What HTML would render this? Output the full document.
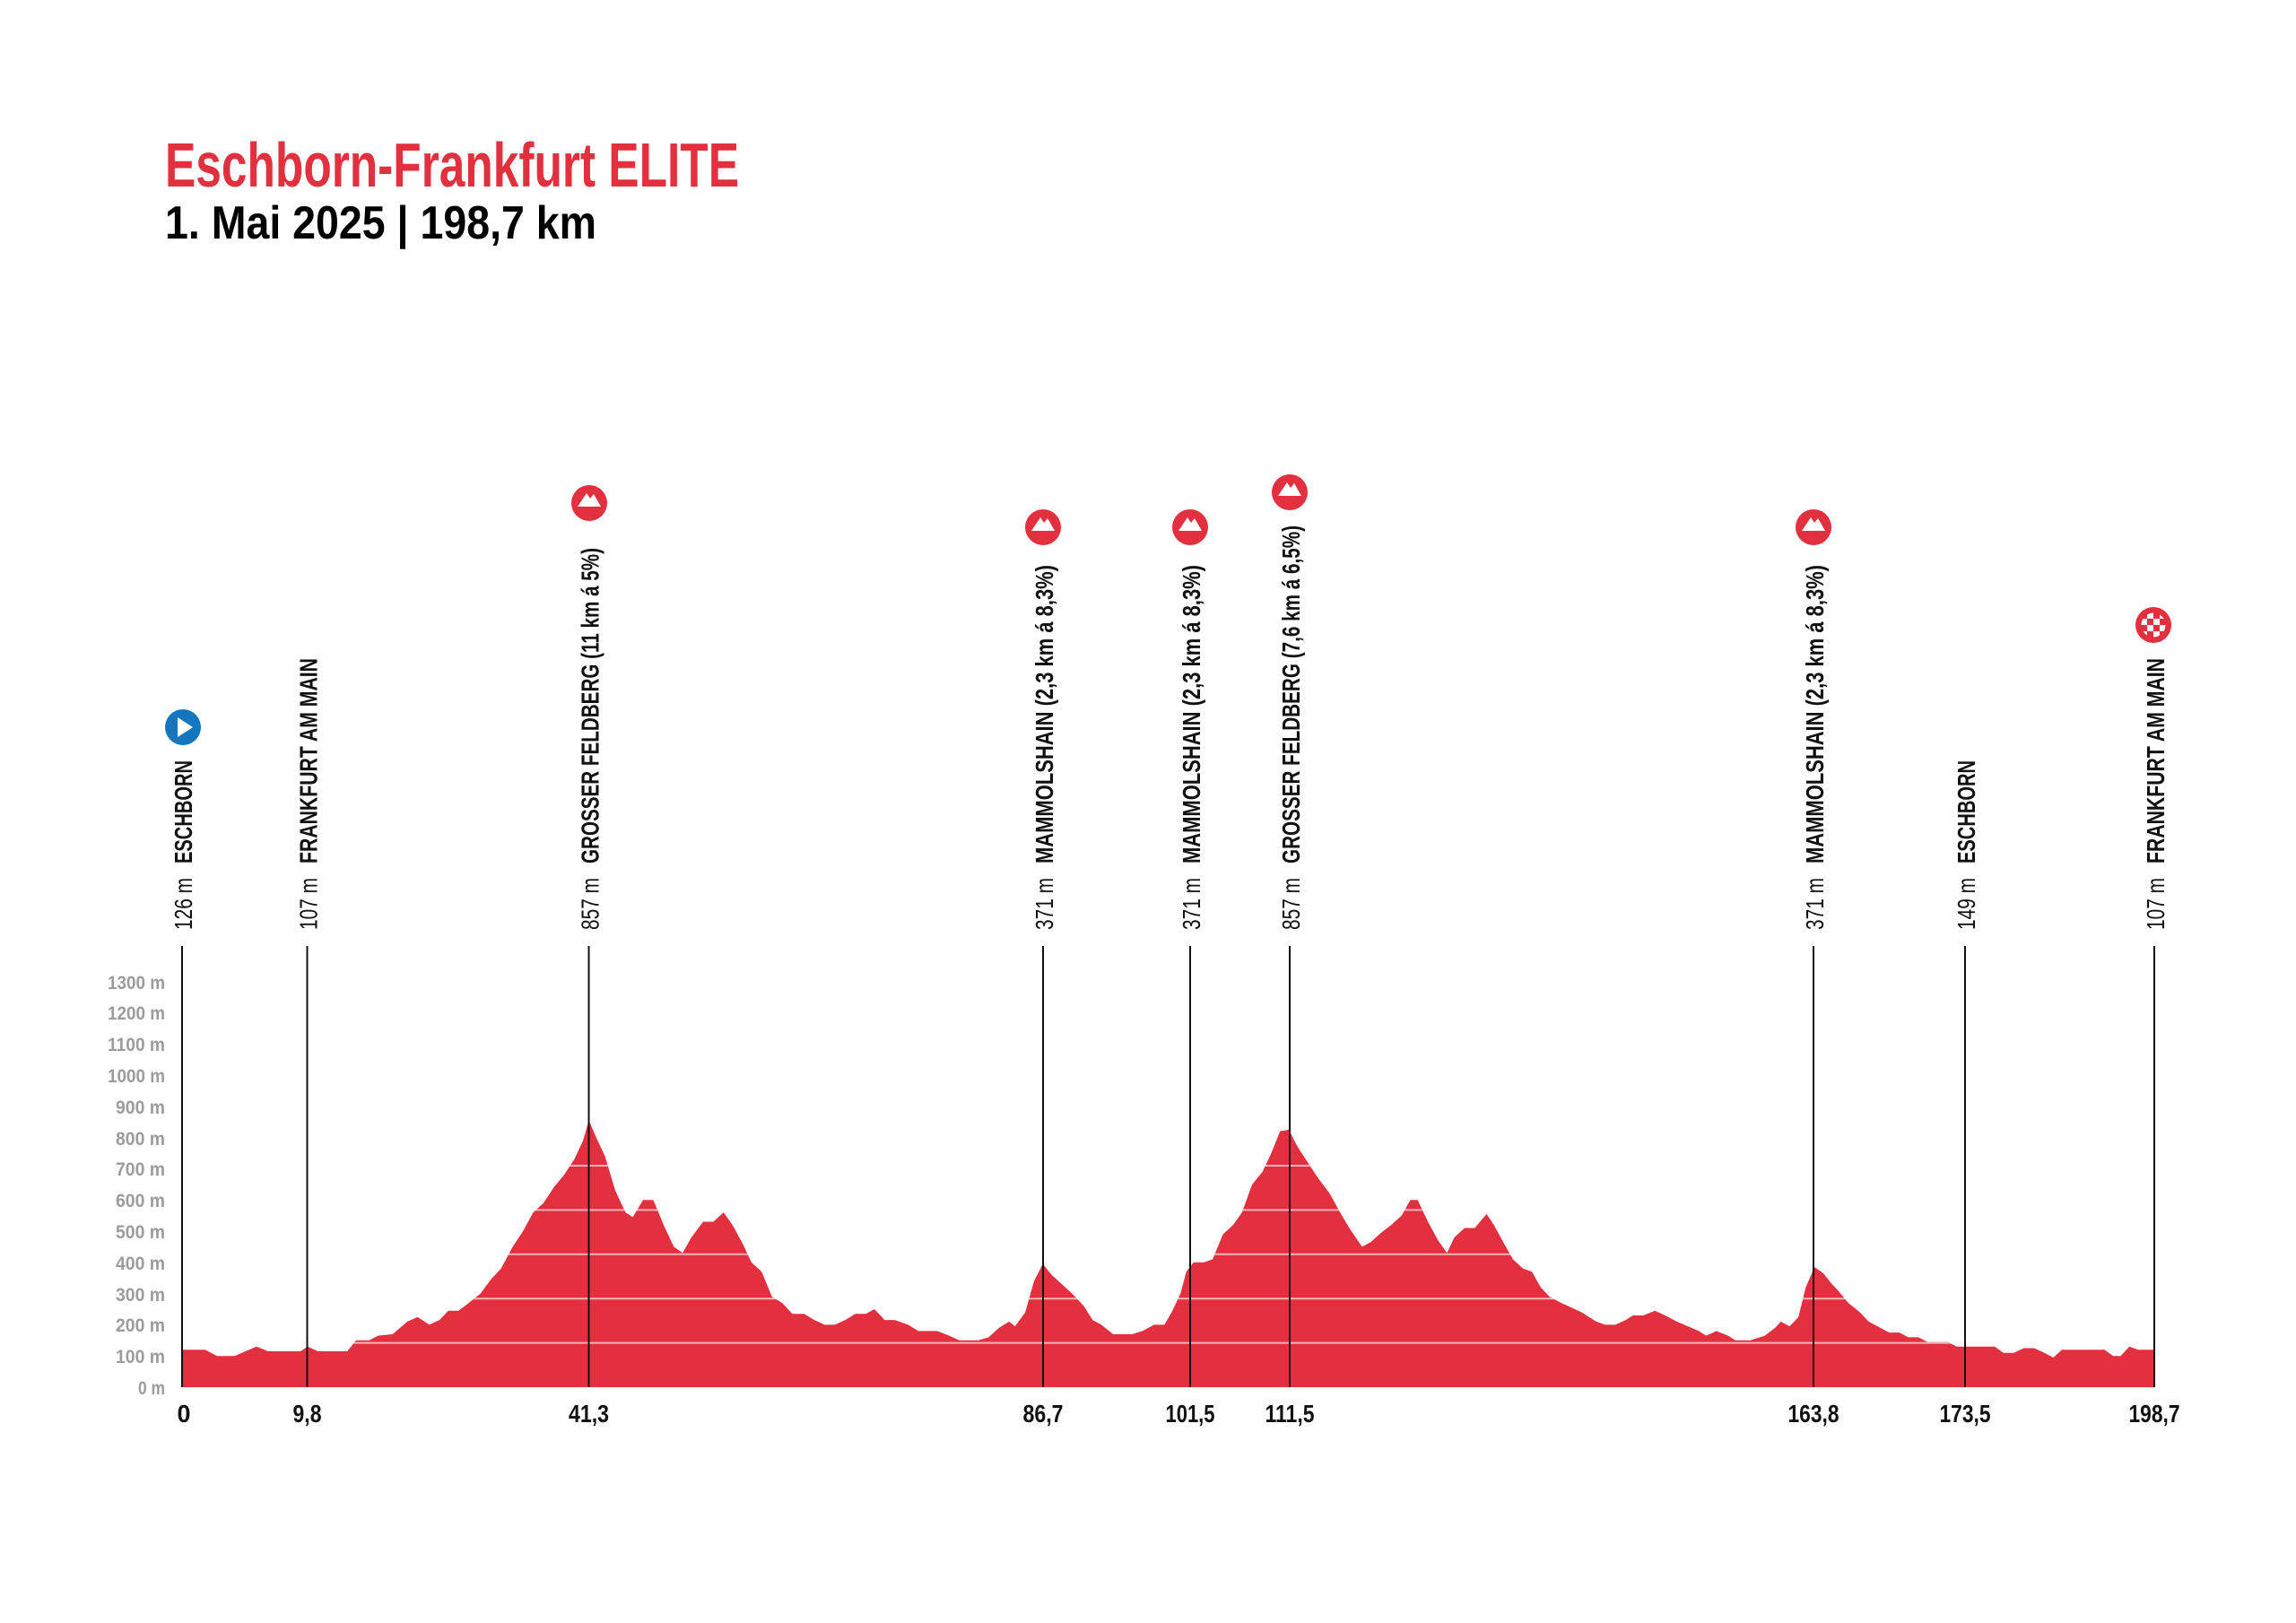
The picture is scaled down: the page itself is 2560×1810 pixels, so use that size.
<!DOCTYPE html>
<html><head><meta charset="utf-8"><style>
html,body{margin:0;padding:0;background:#fff;}
svg{display:block;}
</style></head><body>
<svg width="2560" height="1810" viewBox="0 0 2560 1810" xmlns="http://www.w3.org/2000/svg" font-family="'Liberation Sans', sans-serif">
<defs>
<clipPath id="pc"><polygon id="prof" transform="matrix(1.6327 0 0 -0.348 0.25 1547)" points="124,0 124,120 140,120 148,100 160,100 175,130 183,115 205,115 210,130 217,115 237,115 243,150 252,150 258,165 268,170 278,210 285,225 293,200 300,215 306,245 313,245 320,270 328,300 335,345 342,380 350,450 357,500 364,560 371,590 378,640 385,680 392,730 398,790 402,855 407,800 413,740 420,630 427,560 432,545 439,600 446,600 453,520 460,450 466,430 472,480 480,530 487,530 494,560 500,520 507,460 513,400 520,370 527,290 534,270 541,235 549,235 556,215 563,200 570,200 577,215 584,235 591,235 597,250 604,215 611,215 620,200 627,180 640,180 648,165 655,150 668,150 675,160 682,190 689,210 693,195 700,240 706,340 712,395 718,360 725,330 732,300 740,260 746,215 752,200 760,170 773,170 780,180 788,200 795,200 800,240 806,300 810,370 815,400 822,400 828,410 835,490 842,520 848,560 855,650 862,690 868,750 874,820 880,825 886,770 893,720 900,670 908,620 915,560 922,505 930,450 936,465 943,495 950,520 957,550 963,600 968,600 975,530 982,470 988,430 993,480 1000,510 1007,510 1015,555 1020,520 1027,460 1033,410 1040,380 1046,370 1052,320 1058,290 1066,270 1080,240 1090,210 1096,200 1103,200 1110,215 1115,230 1122,230 1130,245 1137,230 1145,210 1160,180 1165,165 1172,180 1180,165 1185,150 1195,150 1205,165 1212,190 1216,210 1222,195 1228,225 1233,320 1239,385 1245,365 1250,335 1255,310 1262,270 1270,240 1276,210 1282,195 1290,175 1297,175 1303,160 1310,160 1316,145 1330,145 1336,130 1362,130 1368,110 1375,110 1382,125 1389,125 1396,110 1402,95 1408,120 1430,120 1437,120 1443,100 1448,100 1454,130 1460,120 1471,120 1471,0"/></clipPath>
</defs>

<text x="184" y="208" font-size="70" font-weight="bold" fill="#e3303f" textLength="640" lengthAdjust="spacingAndGlyphs">Eschborn-Frankfurt ELITE</text>
<text x="184" y="266" font-size="52" font-weight="bold" fill="#000" textLength="481" lengthAdjust="spacingAndGlyphs">1. Mai 2025 | 198,7 km</text>

<use href="#prof" fill="#e3303f"/>
<g clip-path="url(#pc)" stroke="#f4b5ba" stroke-width="2">
<line x1="150" y1="1497.6" x2="2450" y2="1497.6"/>
<line x1="150" y1="1448.2" x2="2450" y2="1448.2"/>
<line x1="150" y1="1398.8" x2="2450" y2="1398.8"/>
<line x1="150" y1="1349.4" x2="2450" y2="1349.4"/>
<line x1="150" y1="1300" x2="2450" y2="1300"/>
</g>

<g font-size="21" font-weight="bold" fill="#9c9c9c" text-anchor="end">
<text x="184" y="1555" textLength="30" lengthAdjust="spacingAndGlyphs">0 m</text>
<text x="184" y="1520" textLength="55" lengthAdjust="spacingAndGlyphs">100 m</text>
<text x="184" y="1485" textLength="55" lengthAdjust="spacingAndGlyphs">200 m</text>
<text x="184" y="1451" textLength="55" lengthAdjust="spacingAndGlyphs">300 m</text>
<text x="184" y="1416" textLength="55" lengthAdjust="spacingAndGlyphs">400 m</text>
<text x="184" y="1381" textLength="55" lengthAdjust="spacingAndGlyphs">500 m</text>
<text x="184" y="1346" textLength="55" lengthAdjust="spacingAndGlyphs">600 m</text>
<text x="184" y="1311" textLength="55" lengthAdjust="spacingAndGlyphs">700 m</text>
<text x="184" y="1277" textLength="55" lengthAdjust="spacingAndGlyphs">800 m</text>
<text x="184" y="1242" textLength="55" lengthAdjust="spacingAndGlyphs">900 m</text>
<text x="184" y="1207" textLength="64" lengthAdjust="spacingAndGlyphs">1000 m</text>
<text x="184" y="1172" textLength="64" lengthAdjust="spacingAndGlyphs">1100 m</text>
<text x="184" y="1137" textLength="64" lengthAdjust="spacingAndGlyphs">1200 m</text>
<text x="184" y="1103" textLength="64" lengthAdjust="spacingAndGlyphs">1300 m</text>
</g>

<g stroke="#111" stroke-width="2">
<line x1="203" y1="1055" x2="203" y2="1547"/>
<line x1="342.5" y1="1055" x2="342.5" y2="1547"/>
<line x1="656.5" y1="1055" x2="656.5" y2="1547"/>
<line x1="1163" y1="1055" x2="1163" y2="1547"/>
<line x1="1327" y1="1055" x2="1327" y2="1547"/>
<line x1="1438" y1="1055" x2="1438" y2="1547"/>
<line x1="2022" y1="1055" x2="2022" y2="1547"/>
<line x1="2191" y1="1055" x2="2191" y2="1547"/>
<line x1="2402" y1="1055" x2="2402" y2="1547"/>
</g>

<g font-size="28" font-weight="bold" fill="#111" text-anchor="middle">
<text x="205" y="1586" textLength="15" lengthAdjust="spacingAndGlyphs">0</text>
<text x="342.5" y="1586" textLength="32" lengthAdjust="spacingAndGlyphs">9,8</text>
<text x="656.5" y="1586" textLength="45" lengthAdjust="spacingAndGlyphs">41,3</text>
<text x="1163" y="1586" textLength="45" lengthAdjust="spacingAndGlyphs">86,7</text>
<text x="1327" y="1586" textLength="55" lengthAdjust="spacingAndGlyphs">101,5</text>
<text x="1438" y="1586" textLength="55" lengthAdjust="spacingAndGlyphs">111,5</text>
<text x="2022" y="1586" textLength="57" lengthAdjust="spacingAndGlyphs">163,8</text>
<text x="2191" y="1586" textLength="57" lengthAdjust="spacingAndGlyphs">173,5</text>
<text x="2402" y="1586" textLength="57" lengthAdjust="spacingAndGlyphs">198,7</text>
</g>

<g font-size="28" fill="#111">
<g transform="translate(214,1037) rotate(-90)"><text x="0" y="0" textLength="58" lengthAdjust="spacingAndGlyphs">126 m</text><text x="74" y="0" font-weight="bold" textLength="115" lengthAdjust="spacingAndGlyphs">ESCHBORN</text></g>
<g transform="translate(353.5,1037) rotate(-90)"><text x="0" y="0" textLength="58" lengthAdjust="spacingAndGlyphs">107 m</text><text x="74" y="0" font-weight="bold" textLength="229" lengthAdjust="spacingAndGlyphs">FRANKFURT AM MAIN</text></g>
<g transform="translate(667.5,1037) rotate(-90)"><text x="0" y="0" textLength="58" lengthAdjust="spacingAndGlyphs">857 m</text><text x="74" y="0" font-weight="bold" textLength="352" lengthAdjust="spacingAndGlyphs">GROSSER FELDBERG (11 km á 5%)</text></g>
<g transform="translate(1174,1037) rotate(-90)"><text x="0" y="0" textLength="58" lengthAdjust="spacingAndGlyphs">371 m</text><text x="74" y="0" font-weight="bold" textLength="333" lengthAdjust="spacingAndGlyphs">MAMMOLSHAIN (2,3 km á 8,3%)</text></g>
<g transform="translate(1338,1037) rotate(-90)"><text x="0" y="0" textLength="58" lengthAdjust="spacingAndGlyphs">371 m</text><text x="74" y="0" font-weight="bold" textLength="333" lengthAdjust="spacingAndGlyphs">MAMMOLSHAIN (2,3 km á 8,3%)</text></g>
<g transform="translate(1449,1037) rotate(-90)"><text x="0" y="0" textLength="58" lengthAdjust="spacingAndGlyphs">857 m</text><text x="74" y="0" font-weight="bold" textLength="377" lengthAdjust="spacingAndGlyphs">GROSSER FELDBERG (7,6 km á 6,5%)</text></g>
<g transform="translate(2033,1037) rotate(-90)"><text x="0" y="0" textLength="58" lengthAdjust="spacingAndGlyphs">371 m</text><text x="74" y="0" font-weight="bold" textLength="333" lengthAdjust="spacingAndGlyphs">MAMMOLSHAIN (2,3 km á 8,3%)</text></g>
<g transform="translate(2202,1037) rotate(-90)"><text x="0" y="0" textLength="58" lengthAdjust="spacingAndGlyphs">149 m</text><text x="74" y="0" font-weight="bold" textLength="115" lengthAdjust="spacingAndGlyphs">ESCHBORN</text></g>
<g transform="translate(2413,1037) rotate(-90)"><text x="0" y="0" textLength="58" lengthAdjust="spacingAndGlyphs">107 m</text><text x="74" y="0" font-weight="bold" textLength="229" lengthAdjust="spacingAndGlyphs">FRANKFURT AM MAIN</text></g>
</g>

<g transform="translate(204,811)"><circle r="20" fill="#1576c0"/><polygon points="-6,-11 11,0 -6,11" fill="#fff"/></g>
<g fill="#e3303f">
<g transform="translate(657,561)"><circle r="20"/><polygon points="-13,4 -3,-11 1,-5 5,-10 13,4" fill="#fff"/></g>
<g transform="translate(1163,588)"><circle r="20"/><polygon points="-13,4 -3,-11 1,-5 5,-10 13,4" fill="#fff"/></g>
<g transform="translate(1327,588)"><circle r="20"/><polygon points="-13,4 -3,-11 1,-5 5,-10 13,4" fill="#fff"/></g>
<g transform="translate(1438,549)"><circle r="20"/><polygon points="-13,4 -3,-11 1,-5 5,-10 13,4" fill="#fff"/></g>
<g transform="translate(2022,588)"><circle r="20"/><polygon points="-13,4 -3,-11 1,-5 5,-10 13,4" fill="#fff"/></g>
</g>
<g transform="translate(2401,697)">
<circle r="20" fill="#e3303f"/>
<circle r="14" fill="#fff"/>
<g fill="#e3303f">
<rect x="-14" y="-14" width="7" height="7"/><rect x="0" y="-14" width="7" height="7"/>
<rect x="-7" y="-7" width="7" height="7"/><rect x="7" y="-7" width="7" height="7"/>
<rect x="-14" y="0" width="7" height="7"/><rect x="0" y="0" width="7" height="7"/>
<rect x="-7" y="7" width="7" height="7"/><rect x="7" y="7" width="7" height="7"/>
</g>
<circle r="14" fill="none" stroke="#e3303f" stroke-width="1"/>
</g>
</svg>
</body></html>
